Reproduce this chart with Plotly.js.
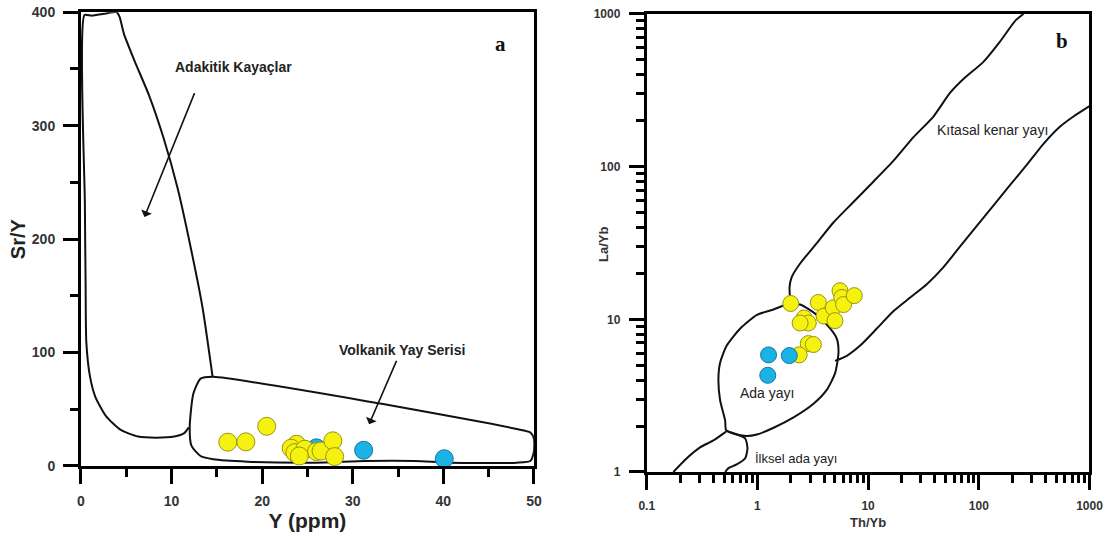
<!DOCTYPE html>
<html><head><meta charset="utf-8">
<script src="https://cdn.plot.ly/plotly-3.0.1.min.js"></script>
<style>html,body{margin:0;padding:0;background:#fff}#chart{width:1108px;height:536px}</style>
</head><body><div id="chart"></div>
<script>
// ---------- Panel a : Sr/Y vs Y (ppm) ----------
const aYellowY   = [16.2, 18.2, 20.5, 23.8, 23.2, 23.6, 24.7, 26.0, 26.5, 27.8, 28.0, 24.1];
const aYellowSrY = [21.0, 21.3, 35.0, 19.2, 15.7, 11.8, 14.8, 12.7, 13.2, 22.2,  8.3,  8.8];
const aBlueY     = [26.0, 31.2, 40.1];
const aBlueSrY   = [16.0, 13.9,  6.4];

// Adakitic rocks field outline
const adakY   = [14.52, 13.42, 12.23, 10.66, 9.08, 7.5, 5.92, 4.74, 4.26, 3.95, 2.76, 1.18, 0.39, 0.43, 0.51, 0.59, 0.99, 1.58, 2.76, 4.34, 6.3, 8.3, 10.3, 11.4, 11.9];
const adakSrY = [79, 139.5, 188, 245, 290, 327, 357, 381, 396, 400, 399, 397, 397.6, 230, 160, 109, 79, 61, 44, 32, 26, 25, 26, 29, 34];

// Volcanic arc series field outline (closed)
const arcY   = [13.2, 14.6, 33.2, 44.4, 48.1, 49.6, 50.0, 50.0, 49.6, 48.1, 40.7, 36.9, 31.4, 25.8, 18.4, 14.6, 13.2, 12.2, 12.0, 12.4, 13.2];
const arcSrY = [77, 78.6, 54.8, 38.5, 32.6, 29.6, 24, 13, 4.4, 2.9, 2.9, 4.4, 4.4, 2.9, 3.8, 5.9, 8.8, 17.7, 34, 63.7, 77];

// ---------- Panel b : La/Yb vs Th/Yb ----------
const bYellowTh = [2.0, 2.64, 2.88, 2.43, 3.55, 4.0, 4.85, 5.57, 5.78, 6.0, 7.5, 5.02, 2.88, 3.2, 2.38];
const bYellowLa = [12.7, 10.2, 9.46, 9.46, 12.9, 10.5, 11.9, 15.4, 13.9, 12.5, 14.3, 9.8, 6.94, 6.84, 5.85];
const bBlueTh   = [1.26, 1.94, 1.24];
const bBlueLa   = [5.85, 5.79, 4.30];

// Continental margin arc boundaries
const contUpTh = [1.97, 1.95, 2.04, 2.43, 3.44, 4.86, 7.37, 11.2, 16.9, 25.7, 38.9, 55.1, 72.6, 110, 156, 213, 253];
const contUpLa = [13.9, 16.2, 18.9, 23.2, 31.6, 43.1, 58.7, 80.0, 109, 156, 213, 305, 375, 486, 662, 902, 1000];
const contLoTh = [5.03, 6.42, 8.47, 12.0, 16.9, 24.0, 33.9, 48.0, 67.8, 95.9, 136, 192, 272, 384, 543, 716, 1000];
const contLoLa = [5.34, 5.77, 6.73, 8.71, 11.3, 13.9, 17.0, 22.0, 30.0, 40.9, 55.7, 75.9, 103, 141, 183, 213, 249];

// Island arc loop (closed)
const islTh = [1.84, 1.40, 0.99, 0.70, 0.528, 0.46, 0.444, 0.46, 0.511, 0.521, 0.65, 0.80, 0.99, 1.40, 2.12, 3.21, 4.23, 5.04, 5.40, 5.21, 4.54, 3.44, 2.43, 1.84];
const islLa = [12.5, 11.6, 10.7, 8.71, 6.73, 5.20, 4.02, 2.95, 2.17, 1.88, 1.76, 1.72, 1.76, 1.95, 2.28, 2.80, 3.45, 4.46, 6.08, 7.47, 8.71, 10.7, 12.5, 12.5];

// Primitive island arc boundaries
const primATh = [0.174, 0.230, 0.303, 0.40, 0.521];
const primALa = [1.0, 1.23, 1.45, 1.61, 1.84];
const primBTh = [0.521, 0.628, 0.775, 0.813, 0.775, 0.650, 0.547, 0.511];
const primBLa = [1.86, 1.78, 1.66, 1.43, 1.23, 1.12, 1.06, 1.0];

const yellow = {color:'#f6f20f', size:18, line:{color:'#9a9410', width:1}};
const blue   = {color:'#1bb3e6', size:18, line:{color:'#17759e', width:1}};
const bline  = {color:'#111', width:2, shape:'spline', smoothing:0.6};

const traces = [
  {x:adakY, y:adakSrY, mode:'lines', line:bline, xaxis:'x', yaxis:'y'},
  {x:arcY, y:arcSrY, mode:'lines', line:bline, xaxis:'x', yaxis:'y'},
  {x:aBlueY, y:aBlueSrY, mode:'markers', marker:blue, xaxis:'x', yaxis:'y'},
  {x:aYellowY, y:aYellowSrY, mode:'markers', marker:yellow, xaxis:'x', yaxis:'y'},
  {x:contUpTh, y:contUpLa, mode:'lines', line:bline, xaxis:'x2', yaxis:'y2'},
  {x:contLoTh, y:contLoLa, mode:'lines', line:bline, xaxis:'x2', yaxis:'y2'},
  {x:islTh, y:islLa, mode:'lines', line:bline, xaxis:'x2', yaxis:'y2'},
  {x:primATh, y:primALa, mode:'lines', line:bline, xaxis:'x2', yaxis:'y2'},
  {x:primBTh, y:primBLa, mode:'lines', line:bline, xaxis:'x2', yaxis:'y2'},
  {x:bYellowTh, y:bYellowLa, mode:'markers', marker:Object.assign({}, yellow, {size:16}), xaxis:'x2', yaxis:'y2'},
  {x:bBlueTh, y:bBlueLa, mode:'markers', marker:Object.assign({}, blue, {size:16}), xaxis:'x2', yaxis:'y2'}
];

const FONT = 'Liberation Sans, Arial, sans-serif';
const tickA = {family:FONT, size:14, color:'#333', weight:'bold'};
const tickB = {family:FONT, size:12, color:'#333', weight:'bold'};
function ax(extra){
  return Object.assign({showgrid:false, zeroline:false, showline:true, linecolor:'#000', linewidth:3, mirror:true,
    ticks:'outside', tickcolor:'#000', tickwidth:2.5, ticklen:15, ticklabelstandoff:5}, extra);
}

const layout = {
  width:1108, height:536, margin:{l:0, r:0, t:0, b:0}, showlegend:false,
  xaxis: ax({domain:[0.0731, 0.4819], range:[0, 50], dtick:10, anchor:'y', tickfont:tickA,
    minor:{ticks:'outside', nticks:2, ticklen:8, tickwidth:2.5, tickcolor:'#000'},
    title:{text:'Y (ppm)', font:{family:FONT, size:21, color:'#222', weight:'bold'}, standoff:3}}),
  yaxis: ax({domain:[0.1306, 0.9771], range:[0, 400], nticks:5, anchor:'x', tickfont:tickA,
    minor:{ticks:'outside', dtick:50, ticklen:8, tickwidth:2.5, tickcolor:'#000'},
    title:{text:'Sr/Y', font:{family:FONT, size:20, color:'#222', weight:'bold'}, standoff:1}}),
  xaxis2: ax({type:'log', domain:[0.5837, 0.9833], range:[-1, 3], dtick:1, anchor:'y2',
    exponentformat:'none', tickfont:tickB, ticklabelstandoff:6,
    minor:{ticks:'outside', ticklen:8, tickwidth:2.5, tickcolor:'#000'},
    title:{text:'Th/Yb', font:{family:FONT, size:13, color:'#333', weight:'bold'}, standoff:6}}),
  yaxis2: ax({type:'log', domain:[0.1194, 0.9739], range:[0, 3], nticks:4, anchor:'x2',
    exponentformat:'none', tickfont:tickB, ticklabelstandoff:6,
    minor:{ticks:'outside', ticklen:8, tickwidth:2.5, tickcolor:'#000'}}),
  annotations: [
    {xref:'x', yref:'y', x:16.8, y:352, text:'Adakitik Kayaçlar', showarrow:false,
     font:{family:FONT, size:14, color:'#222', weight:'bold'}},
    {xref:'x', yref:'y', x:7.0, y:219.5, ax:12.6, ay:330, axref:'x', ayref:'y', text:'', showarrow:true,
     arrowhead:1, arrowsize:1.2, arrowwidth:1.6, arrowcolor:'#111'},
    {xref:'x', yref:'y', x:35.4, y:102.6, text:'Volkanik Yay Serisi', showarrow:false,
     font:{family:FONT, size:14, color:'#222', weight:'bold'}},
    {xref:'x', yref:'y', x:31.8, y:36.8, ax:34.9, ay:94, axref:'x', ayref:'y', text:'', showarrow:true,
     arrowhead:1, arrowsize:1.2, arrowwidth:1.6, arrowcolor:'#111'},
    {xref:'x', yref:'y', x:46.3, y:372, text:'a', showarrow:false,
     font:{family:'Liberation Serif, Times New Roman, serif', size:21, color:'#111', weight:'bold'}},
    {xref:'paper', yref:'paper', x:603/1108, y:1-245/536, text:'La/Yb', textangle:-90, showarrow:false,
     font:{family:FONT, size:13, color:'#333', weight:'bold'}},
    {xref:'x2', yref:'y2', x:Math.log10(134), y:Math.log10(173), text:'Kıtasal kenar yayı', showarrow:false,
     font:{family:FONT, size:14, color:'#222'}},
    {xref:'x2', yref:'y2', x:Math.log10(1.21), y:Math.log10(3.27), text:'Ada yayı', showarrow:false,
     font:{family:FONT, size:14, color:'#222'}},
    {xref:'x2', yref:'y2', x:Math.log10(0.92), y:Math.log10(1.23), xanchor:'left', text:'İlksel ada yayı', showarrow:false,
     font:{family:FONT, size:13, color:'#222'}},
    {xref:'x2', yref:'y2', x:Math.log10(562), y:Math.log10(661), text:'b', showarrow:false,
     font:{family:'Liberation Serif, Times New Roman, serif', size:21, color:'#111', weight:'bold'}}
  ]
};

Plotly.newPlot('chart', traces, layout, {displayModeBar:false});
</script>
</body></html>
